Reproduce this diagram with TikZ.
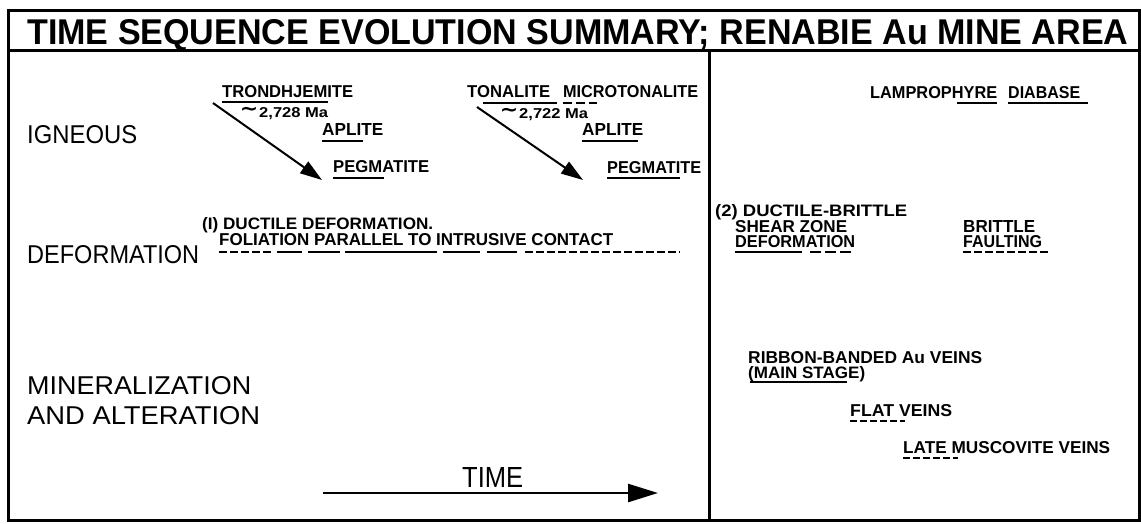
\documentclass[tikz,border=0pt]{standalone}
\usepackage{fontspec}
\setmainfont{Liberation Sans}
\newfontfamily\dvs{DejaVu Sans}
\usetikzlibrary{arrows.meta}
\newcommand\fitt[3]{\resizebox{#1pt}{#2pt}{#3}}
\newcommand\bigtilde{\scalebox{2.2}[2.0]{\dvs\bfseries\textasciitilde}}
\begin{document}
\begin{tikzpicture}[x=1pt,y=-1pt,
  lab/.style={anchor=base west,inner sep=0pt,font=\bfseries},
  rowlab/.style={anchor=base west,inner sep=0pt},
  frame/.style={line width=3pt},
  ul/.style={line width=2.6pt},
  dul/.style={line width=2.6pt,dash pattern=on 8pt off 3pt},
  tip/.style={line width=2pt,-{Triangle[length=22pt,width=14pt]}},
  timetip/.style={line width=2.6pt,-{Triangle[length=30pt,width=18pt]}}]
\useasboundingbox (0,0) rectangle (1141,523);
% frame
\draw[frame] (8,10) rectangle (1139,520);
\draw[frame] (8,50) -- (1139,50);
\draw[frame] (709,50) -- (709,520);
% title
\node[lab] (title) at (27,44) {\fitt{1101}{25}{TIME SEQUENCE EVOLUTION SUMMARY; RENABIE Au MINE AREA}};
% row labels
\node[rowlab] (ign) at (27,143) {\fitt{110}{18}{IGNEOUS}};
\node[rowlab] (def) at (27,263) {\fitt{172}{18}{DEFORMATION}};
\node[rowlab] (min) at (27,394) {\fitt{224}{18}{MINERALIZATION}};
\node[rowlab] (alt) at (27,424) {\fitt{233}{18}{AND ALTERATION}};
\node[rowlab] (time) at (462,487) {\fitt{61}{20}{TIME}};
% igneous group 1
\node[lab] (tron) at (222,97) {\fitt{131}{12}{TRONDHJEMITE}};
\node[lab,anchor=center] (tilde1) at (249,111) {\bigtilde};
\node[lab] (age1) at (259,117) {\fitt{69}{10}{2,728 Ma}};
\node[lab] (apl1) at (322,135) {\fitt{61}{12}{APLITE}};
\node[lab] (peg1) at (333,172) {\fitt{96}{12}{PEGMATITE}};
\draw[ul] (222,102) -- (328,102);
\draw[ul] (322,141) -- (363,141);
\draw[ul] (333,178) -- (384,178);
\coordinate (a1s) at (213,103);
\coordinate (a1e) at (322,180);
\draw[tip] (a1s) -- (a1e);
% igneous group 2
\node[lab] (ton) at (467,97) {\fitt{83}{12}{TONALITE}};
\node[lab] (micro) at (563,97) {\fitt{135}{12}{MICROTONALITE}};
\node[lab,anchor=center] (tilde2) at (509,112) {\bigtilde};
\node[lab] (age2) at (519,118) {\fitt{69}{10}{2,722 Ma}};
\node[lab] (apl2) at (582,135) {\fitt{61}{12}{APLITE}};
\node[lab] (peg2) at (607,173) {\fitt{94}{12}{PEGMATITE}};
\draw[ul] (483,103) -- (557,103);
\draw[line width=2.6pt,dash pattern=on 9pt off 4pt] (563,103) -- (597,103);
\draw[ul] (582,141) -- (638,141);
\draw[ul] (607,178) -- (680,178);
\coordinate (a2s) at (477,107);
\coordinate (a2e) at (583,180);
\draw[tip] (a2s) -- (a2e);
% late igneous
\node[lab] (lamp) at (870,98) {\fitt{127}{12}{LAMPROPHYRE}};
\node[lab] (diab) at (1008,98) {\fitt{72}{12}{DIABASE}};
\draw[ul] (957,103) -- (997,103);
\draw[ul] (1008,103) -- (1088,103);
% deformation 1
\node[lab] (duct1) at (202,229) {\fitt{231}{12}{(I) DUCTILE DEFORMATION.}};
\node[lab] (fol) at (219,245) {\fitt{394}{12}{FOLIATION PARALLEL TO INTRUSIVE CONTACT}};
\draw[dul] (219,252) -- (272,252);
\draw[ul] (277,252) -- (302,252);
\draw[ul] (308,252) -- (340,252);
\draw[ul] (345,252) -- (437,252);
\draw[ul] (443,252) -- (480,252);
\draw[ul] (487,252) -- (517,252);
\draw[dul] (525,252) -- (680,252);
% deformation 2
\node[lab] (duct2) at (715,216) {\fitt{192}{12}{(2) DUCTILE-BRITTLE}};
\node[lab] (shear) at (735,232) {\fitt{112}{12}{SHEAR ZONE}};
\node[lab] (defm) at (735,247) {\fitt{120}{12}{DEFORMATION}};
\draw[ul] (735,252) -- (802,252);
\draw[line width=2.6pt,dash pattern=on 11pt off 4pt] (810,252) -- (852,252);
\node[lab] (brit) at (963,232) {\fitt{72}{12}{BRITTLE}};
\node[lab] (faul) at (963,247) {\fitt{79}{12}{FAULTING}};
\draw[dul] (963,252) -- (1048,252);
% mineralization
\node[lab] (ribbon) at (748,363) {\fitt{234}{12}{RIBBON-BANDED Au VEINS}};
\node[lab] (mainst) at (748,378) {\fitt{117}{12}{(MAIN STAGE)}};
\draw[ul] (750,382) -- (847,382);
\node[lab] (flat) at (850,416) {\fitt{102}{12}{FLAT VEINS}};
\draw[line width=2.6pt,dash pattern=on 7pt off 3pt] (850,421) -- (905,421);
\node[lab] (musc) at (903,453) {\fitt{207}{12}{LATE MUSCOVITE VEINS}};
\draw[line width=2.6pt,dash pattern=on 7pt off 3pt] (903,458) -- (958,458);
% time arrow
\coordinate (ts) at (323,493);
\coordinate (te) at (658,493);
\draw[timetip] (ts) -- (te);
\end{tikzpicture}
\end{document}
